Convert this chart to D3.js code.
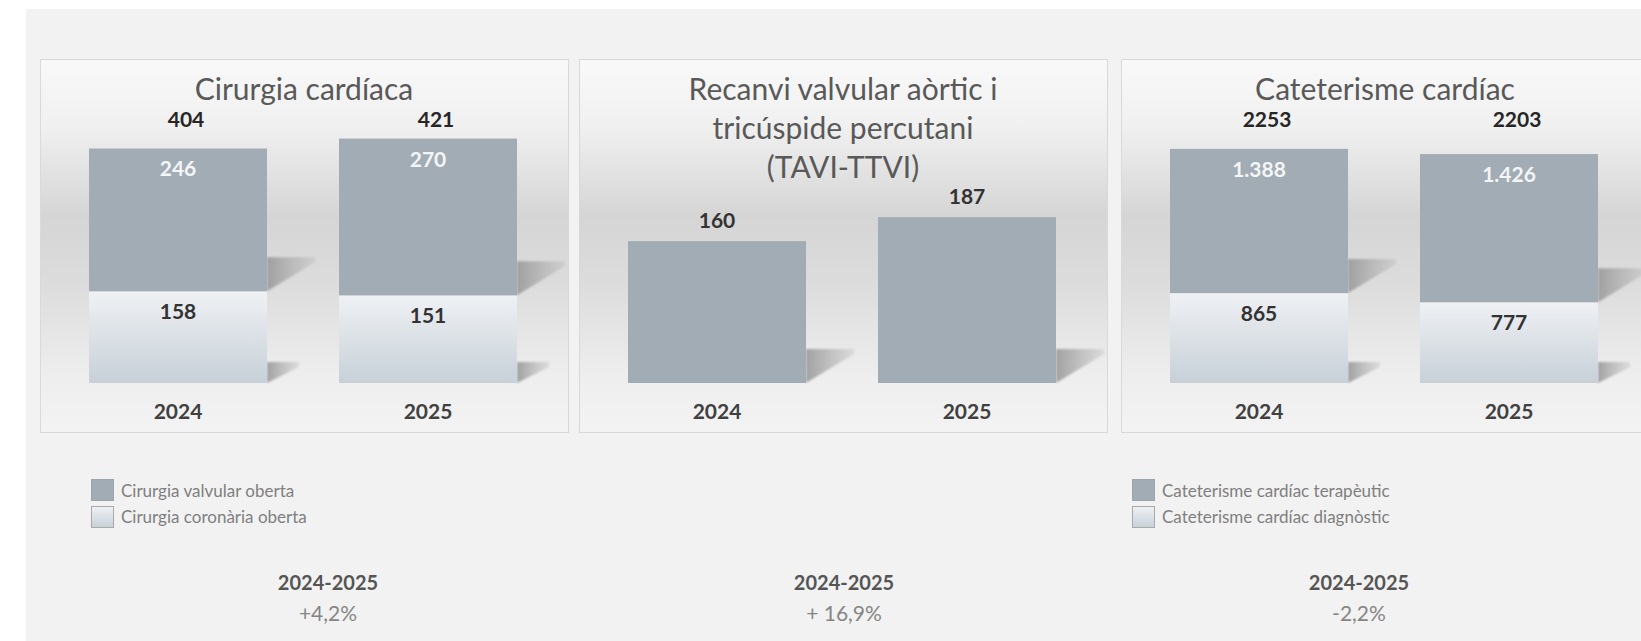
<!DOCTYPE html>
<meta charset="utf-8">
<script src="https://cdn.jsdelivr.net/npm/d3@7"></script>
<style>
body { margin: 0; background: #fff; }
text { font-family: Lato, "Open Sans", sans-serif; }
</style>
<body>
<script>
var years = ["2024", "2025"];

var titles = [["Cirurgia cardíaca"],
              ["Recanvi valvular aòrtic i", "tricúspide percutani", "(TAVI-TTVI)"],
              ["Cateterisme cardíac"]];

// stacked panels: bottom segment + top segment
var cirValvular = [246, 270];
var cirCoronaria = [158, 151];
var cirTotal = [404, 421];

var taviTotal = [160, 187];

var catTerapeutic = [1388, 1426];
var catDiagnostic = [865, 777];
var catTotal = [2253, 2203];

// hidden axis maximum of each panel
var yMax = [472, 309, 2637];

var legendCir = ["Cirurgia valvular oberta", "Cirurgia coronària oberta"];
var legendCat = ["Cateterisme cardíac terapèutic", "Cateterisme cardíac diagnòstic"];

var periodLabel = "2024-2025";
var changes = ["+4,2%", "+ 16,9%", "-2,2%"];

var width = 1641, height = 641;
var darkBar = "#a1acb4";

var fmtCa = d3.formatLocale({decimal: ",", thousands: ".", grouping: [3], currency: ["", "€"]}).format(",d");

var svg = d3.select("body").append("svg")
    .attr("width", width)
    .attr("height", height);

var defs = svg.append("defs");

var bg = defs.append("linearGradient").attr("id", "panelBg")
    .attr("x1", 0).attr("y1", 0).attr("x2", 0).attr("y2", 1);
[[0, "#f9f9f9"], [0.18, "#f0f0f0"], [0.42, "#d5d5d5"], [0.6, "#dcdcdc"], [0.85, "#eeeeee"], [1, "#f3f3f3"]]
  .forEach(function(s) { bg.append("stop").attr("offset", s[0]).attr("stop-color", s[1]); });

var lg = defs.append("linearGradient").attr("id", "lightBar")
    .attr("x1", 0).attr("y1", 0).attr("x2", 0).attr("y2", 1);
lg.append("stop").attr("offset", 0).attr("stop-color", "#eff1f4");
lg.append("stop").attr("offset", 1).attr("stop-color", "#c7d0d8");

var sg = defs.append("linearGradient").attr("id", "shadowGrad")
    .attr("x1", 0).attr("y1", 0).attr("x2", 1).attr("y2", 0);
sg.append("stop").attr("offset", 0).attr("stop-color", "#999").attr("stop-opacity", 0.9);
sg.append("stop").attr("offset", 1).attr("stop-color", "#aaa").attr("stop-opacity", 0.25);

defs.append("filter").attr("id", "blur")
  .append("feGaussianBlur").attr("stdDeviation", 1.3);

// page background
svg.append("rect").attr("x", 26).attr("y", 9)
    .attr("width", width).attr("height", height)
    .attr("fill", "#f2f2f2");

var panelX = [40, 579, 1121];
var panelW = 528;
var baseY = 383;

function shadow(g, R, b, big) {
  var dx = big ? 48 : 32, dy = big ? 34 : 21;
  g.append("polygon")
    .attr("points", [[R, b - dy], [R + dx, b - dy], [R + dx, b - dy + 5], [R, b]].join(" "))
    .attr("fill", "url(#shadowGrad)")
    .attr("filter", "url(#blur)");
}

function drawPanel(i, bottomVals, topVals, totals) {
  var g = svg.append("g").attr("transform", "translate(" + panelX[i] + ",0)");

  g.append("rect")
    .attr("x", 0.5).attr("y", 59.5)
    .attr("width", panelW).attr("height", 373)
    .attr("fill", "url(#panelBg)")
    .attr("stroke", "#d9d9d9");

  var x = d3.scaleBand().domain(years).range([49, 477]).paddingInner(0.288);
  var y = d3.scaleLinear().domain([0, yMax[i]]).range([baseY, 109]);

  titles[i].forEach(function(t, k) {
    g.append("text")
      .attr("x", panelW / 2)
      .attr("y", 100 + k * 39)
      .attr("text-anchor", "middle")
      .style("font-size", "30px")
      .attr("fill", "#595959")
      .text(t);
  });

  var rows = years.map(function(yr, j) {
    return {year: yr, bottom: bottomVals[j], top: topVals ? topVals[j] : 0};
  });
  var keys = topVals ? ["bottom", "top"] : ["bottom"];
  var series = d3.stack().keys(keys)(rows);

  // shadows first
  series.forEach(function(s) {
    s.forEach(function(d) {
      var big = s.key == "top" || !topVals;
      shadow(g, x(d.data.year) + x.bandwidth(), y(d[0]), big);
    });
  });

  series.forEach(function(s) {
    g.selectAll(".bar-" + s.key)
      .data(s).enter().append("rect")
      .attr("x", function(d) { return x(d.data.year); })
      .attr("y", function(d) { return y(d[1]); })
      .attr("width", x.bandwidth())
      .attr("height", function(d) { return y(d[0]) - y(d[1]); })
      .attr("fill", (s.key == "top" || !topVals) ? darkBar : "url(#lightBar)");
  });

  if (topVals) {
    // totals above stacks
    g.selectAll(".total")
      .data(rows).enter().append("text")
      .attr("x", function(d) { return x(d.year) + x.bandwidth() / 2 + 8; })
      .attr("y", 127)
      .attr("text-anchor", "middle")
      .style("font-size", "21px").style("font-weight", "bold")
      .attr("fill", "#262626")
      .text(function(d, j) { return totals[j]; });

    series[1].forEach(function(d) {
      g.append("text")
        .attr("x", x(d.data.year) + x.bandwidth() / 2)
        .attr("y", y(d[1]) + 28)
        .attr("text-anchor", "middle")
        .style("font-size", "21px").style("font-weight", "bold")
        .attr("fill", "#f4f5f6")
        .text(fmtCa(d[1] - d[0]));
    });
    series[0].forEach(function(d) {
      g.append("text")
        .attr("x", x(d.data.year) + x.bandwidth() / 2)
        .attr("y", y(d[1]) + 28)
        .attr("text-anchor", "middle")
        .style("font-size", "21px").style("font-weight", "bold")
        .attr("fill", "#333")
        .text(fmtCa(d[1] - d[0]));
    });
  } else {
    series[0].forEach(function(d) {
      g.append("text")
        .attr("x", x(d.data.year) + x.bandwidth() / 2)
        .attr("y", y(d[1]) - 13)
        .attr("text-anchor", "middle")
        .style("font-size", "21px").style("font-weight", "bold")
        .attr("fill", "#333")
        .text(d[1]);
    });
  }

  g.selectAll(".year")
    .data(years).enter().append("text")
    .attr("x", function(d) { return x(d) + x.bandwidth() / 2; })
    .attr("y", 419)
    .attr("text-anchor", "middle")
    .style("font-size", "21px").style("font-weight", "bold")
    .attr("fill", "#404040")
    .text(function(d) { return d; });
}

drawPanel(0, cirCoronaria, cirValvular, cirTotal);
drawPanel(1, taviTotal, null, null);
drawPanel(2, catDiagnostic, catTerapeutic, catTotal);

function legend(lx, labels) {
  var lgd = svg.append("g").attr("transform", "translate(" + lx + ",479)");
  labels.forEach(function(l, k) {
    lgd.append("rect")
      .attr("x", 0.5).attr("y", k * 27 + 0.5)
      .attr("width", 22).attr("height", 21)
      .attr("fill", k == 0 ? darkBar : "url(#lightBar)")
      .attr("stroke", k == 0 ? "#9aa5ad" : "#a9a9a9");
    lgd.append("text")
      .attr("x", 30)
      .attr("y", k * 26 + 18)
      .style("font-size", "17px")
      .attr("fill", "#7f7f7f")
      .text(l);
  });
}
legend(91, legendCir);
legend(1132, legendCat);

var summaryX = [328, 844, 1359];
changes.forEach(function(c, i) {
  svg.append("text")
    .attr("x", summaryX[i]).attr("y", 590)
    .attr("text-anchor", "middle")
    .style("font-size", "20px").style("font-weight", "bold")
    .attr("fill", "#555")
    .text(periodLabel);
  svg.append("text")
    .attr("x", summaryX[i]).attr("y", 621)
    .attr("text-anchor", "middle")
    .style("font-size", "21px")
    .attr("fill", "#858585")
    .text(c);
});
</script>
</body>
</html>
